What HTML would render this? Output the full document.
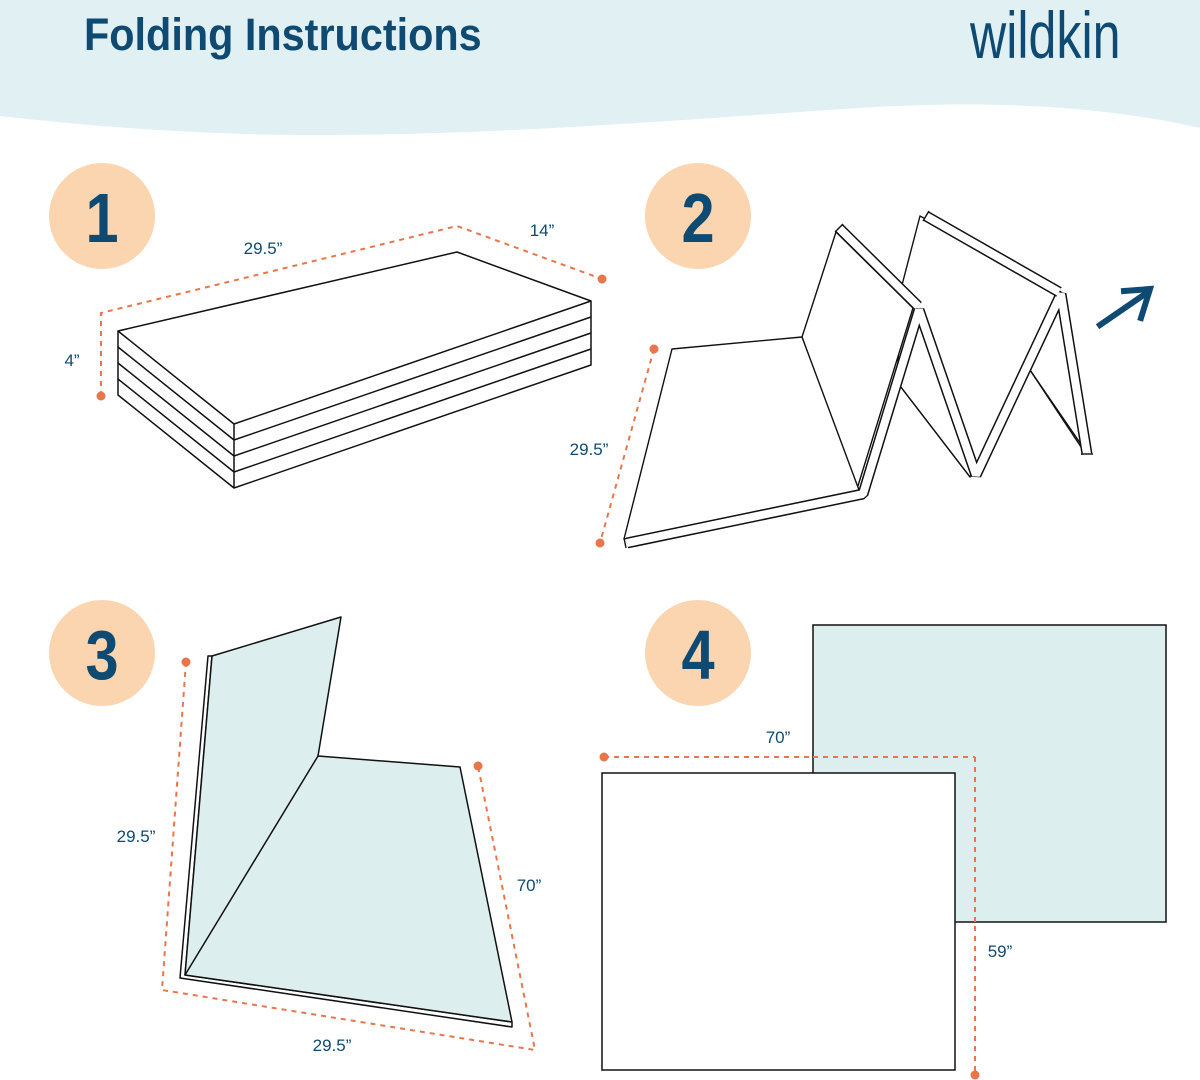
<!DOCTYPE html>
<html><head><meta charset="utf-8"><style>
html,body{margin:0;padding:0;background:#fff;}
svg{display:block;}
text{font-family:"Liberation Sans",sans-serif;}
</style></head><body>
<svg width="1200" height="1080" viewBox="0 0 1200 1080" xmlns="http://www.w3.org/2000/svg">
<path d="M0 0H1200V128C1100 105 980 100 860 108C700 118 500 136 300 135C180 134 80 125 0 116Z" fill="#e1f1f3"/>
<text x="84" y="50" font-size="45" font-weight="bold" fill="#0f4a73" transform="translate(84 0) scale(0.92 1) translate(-84 0)">Folding Instructions</text>
<text x="970" y="58" font-size="66" fill="#0f4a73" transform="translate(970 0) scale(0.76 1) translate(-970 0)">wildkin</text>

<g fill="#fbd5b0"><circle cx="102" cy="216" r="53"/><circle cx="698" cy="216" r="53"/><circle cx="102" cy="653" r="53"/><circle cx="698" cy="653" r="53"/></g>
<g fill="#0f4a73" font-size="70" font-weight="bold" text-anchor="middle">
<text x="102" y="242" transform="translate(102 0) scale(0.85 1) translate(-102 0)">1</text>
<text x="698" y="242" transform="translate(698 0) scale(0.85 1) translate(-698 0)">2</text>
<text x="102" y="679" transform="translate(102 0) scale(0.85 1) translate(-102 0)">3</text>
<text x="698" y="679" transform="translate(698 0) scale(0.85 1) translate(-698 0)">4</text>
</g>

<g stroke="#e8764a" stroke-width="2" stroke-dasharray="5 5" fill="none">
<polyline points="101,396 101,313 457,226 602,279"/>
<line x1="654" y1="349" x2="600" y2="543"/>
<polyline points="186,662 162,990 535,1050 478,766"/>
<polyline points="604,757 975,757 975,1075"/>
</g>
<g fill="#e8764a"><circle cx="101" cy="396" r="4.5"/><circle cx="602" cy="279" r="4.5"/><circle cx="654" cy="349" r="4.5"/><circle cx="600" cy="543" r="4.5"/><circle cx="186" cy="662" r="4.5"/><circle cx="478" cy="766" r="4.5"/><circle cx="604" cy="757" r="4.5"/><circle cx="975" cy="1075" r="4.5"/></g>

<g fill="#0f4a73" font-size="17" text-anchor="middle">
<text x="263" y="254">29.5”</text><text x="542" y="236">14”</text><text x="72" y="366">4”</text>
<text x="589" y="455">29.5”</text>
<text x="136" y="842">29.5”</text><text x="529" y="891">70”</text><text x="332" y="1051">29.5”</text>
<text x="778" y="743">70”</text><text x="1000" y="957">59”</text>
</g>

<!-- fig1 -->
<g stroke="#111" stroke-width="1.5" fill="#fff" stroke-linejoin="round">
<polygon points="118,331 457,252 591,301 591,365 234,488 118,395"/>
<polyline fill="none" points="118,331 234,424 591,301"/>
<line x1="234" y1="424" x2="234" y2="488"/>
<polyline fill="none" points="118,347 234,440 591,317"/>
<polyline fill="none" points="118,363 234,456 591,333"/>
<polyline fill="none" points="118,379 234,472 591,349"/>
</g>

<!-- fig2 -->
<g stroke="#111" stroke-width="1.4" fill="#fff" stroke-linejoin="round">
<polygon points="902,285 920,216 1061,292 1087,453 1030,370 970,477 897,382"/>
<line x1="897" y1="382" x2="970" y2="477"/>
<line x1="1030" y1="370" x2="1085" y2="453"/>
<polygon points="802,337 836,232 913,308 857,489"/>
<polygon points="672,349 802,337 859,490 624,539"/>
</g>
<g fill="none" stroke-linejoin="bevel" stroke-linecap="butt">
<polyline points="627,543 863,494 919,310 976,475 1061,294 1087,454" stroke="#111" stroke-width="11"/>
<polyline points="627,543 863,494 919,310 976,475 1061,294 1087,454" stroke="#fff" stroke-width="8"/>
<line x1="839" y1="228" x2="918" y2="306" stroke="#111" stroke-width="11"/>
<line x1="839" y1="228" x2="918" y2="306" stroke="#fff" stroke-width="8"/>
<line x1="926" y1="216" x2="1059" y2="292" stroke="#111" stroke-width="11"/>
<line x1="926" y1="216" x2="1059" y2="292" stroke="#fff" stroke-width="8"/>
</g>
<g stroke="#111" stroke-width="1.4">
<line x1="624" y1="538" x2="626" y2="548"/>
<line x1="1081" y1="454" x2="1093" y2="454"/>
<line x1="835" y1="232" x2="843" y2="224"/>
<line x1="923" y1="221" x2="929" y2="211"/>
</g>
<g stroke="#0f4a73" stroke-width="6" fill="none" stroke-linecap="square">
<line x1="1100" y1="325" x2="1148" y2="292"/><polyline points="1124,291 1150,289 1141,318"/>
</g>

<!-- fig3 -->
<g stroke="#111" stroke-width="1.5" stroke-linejoin="round">
<polygon fill="#fff" points="208,656 212,656 185,975 512,1022 512,1027 180,978"/>
<polygon fill="#dceeee" points="212,656 341,617 318,756 460,767 512,1022 185,975"/>
<line x1="318" y1="756" x2="185" y2="975"/>
</g>

<!-- fig4 -->
<g stroke="#111" stroke-width="1.5">
<rect x="813" y="625" width="353" height="297" fill="#dceeee"/>
<rect x="602" y="773" width="353" height="297" fill="#fff"/>
</g>
<g stroke="#e8764a" stroke-width="2" stroke-dasharray="5 5"><line x1="813" y1="757" x2="975" y2="757"/><line x1="975" y1="757" x2="975" y2="922"/></g>
</svg>
</body></html>
